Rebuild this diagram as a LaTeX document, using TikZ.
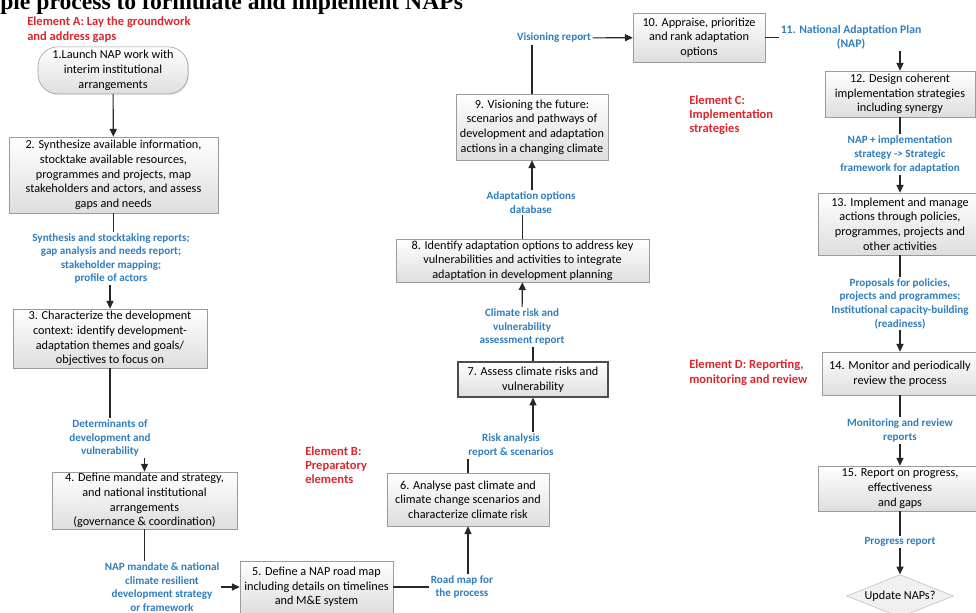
\documentclass[tikz,border=0pt]{standalone}
\usepackage{fontspec}
\setmainfont{Carlito}
\newfontfamily\titlefont{Liberation Serif}
\usetikzlibrary{arrows.meta,shapes.geometric,shadows}

\definecolor{napblue}{RGB}{47,125,190}
\definecolor{napred}{RGB}{220,38,45}
\definecolor{boxline}{RGB}{155,155,155}

\tikzset{
  box/.style={draw=boxline,top color=white,bottom color=black!13,
    drop shadow={opacity=0.2,shadow xshift=0.8pt,shadow yshift=-0.8pt},
    align=center,inner sep=1pt},
  product/.style={text=napblue,font=\fontsize{7.9}{9.7}\selectfont\bfseries,align=center,inner sep=1pt},
  element/.style={text=napred,font=\fontsize{8.9}{10.2}\selectfont\bfseries,align=left,anchor=west,inner sep=0pt},
  line/.style={draw=black!85,line width=0.8pt},
  arr/.style={line,-{Triangle[length=5.5pt,width=5pt]}}
}

\begin{document}
\begin{tikzpicture}[font=\fontsize{8.7}{10.4}\selectfont]
\useasboundingbox (0,0) rectangle (24.4,15.3);

\node[anchor=base west,inner sep=0pt,font=\titlefont\bfseries\fontsize{16.8}{18}\selectfont] (title) at (0,15.06) {ple process to formulate and implement NAPs};

% element headings
\node[element] (A) at (0.675,14.56) {Element A: Lay the groundwork\\and address gaps};
\node[element] (B) at (7.625,3.675) {Element B:\\Preparatory\\elements};
\node[element] (C) at (17.225,12.42) {Element C:\\Implementation\\strategies};
\node[element] (D) at (17.225,5.98) {Element D: Reporting,\\monitoring and review};

% steps
\node[box,rounded corners=14pt,minimum width=3.75cm,minimum height=1.175cm] (1) at (2.825,13.54) {1.Launch NAP work with\\interim institutional\\arrangements};
\node[box,minimum width=5.225cm,minimum height=1.9cm] (2) at (2.8375,10.925) {2. Synthesize available information,\\stocktake available resources,\\programmes and projects, map\\stakeholders and actors, and assess\\gaps and needs};
\node[box,minimum width=4.85cm,minimum height=1.475cm] (3) at (2.75,6.8375) {3. Characterize the development\\context: identify development-\\adaptation themes and goals/\\objectives to focus on};
\node[box,minimum width=4.625cm,minimum height=1.325cm] (4) at (3.6125,2.7875) {4. Define mandate and strategy,\\and national institutional\\arrangements\\(governance \& coordination)};
\node[box,minimum width=3.825cm,minimum height=1.3cm] (5) at (7.9125,0.625) {5. Define a NAP road map\\including details on timelines\\and M\&E system};
\node[box,minimum width=4.05cm,minimum height=1.325cm] (6) at (11.7,2.8125) {6. Analyse past climate and\\climate change scenarios and\\characterize climate risk};
\node[box,draw=black!70,line width=0.8pt,minimum width=3.75cm,minimum height=0.875cm] (7) at (13.325,5.8125) {7. Assess climate risks and\\vulnerability};
\node[box,minimum width=6.325cm,minimum height=1.075cm] (8) at (13.0625,8.7875) {8. Identify adaptation options to address key\\vulnerabilities and activities to integrate\\adaptation in development planning};
\node[box,minimum width=3.8cm,minimum height=1.65cm] (9) at (13.3,12.125) {9. Visioning the future:\\scenarios and pathways of\\development and adaptation\\actions in a changing climate};
\node[box,minimum width=3.3cm,minimum height=1.225cm] (10) at (17.475,14.3625) {10. Appraise, prioritize\\and rank adaptation\\options};
\node[product,font=\fontsize{8.3}{10}\selectfont\bfseries] (11) at (21.275,14.3625) {11. National Adaptation Plan\\(NAP)};
\node[box,minimum width=3.75cm,minimum height=1.15cm] (12) at (22.5,12.95) {12. Design coherent\\implementation strategies\\including synergy};
\node[box,minimum width=4.1cm,minimum height=1.55cm] (13) at (22.5,9.7) {13. Implement and manage\\actions through policies,\\programmes, projects and\\other activities};
\node[box,minimum width=3.9cm,minimum height=1.075cm] (14) at (22.5,5.9625) {14. Monitor and periodically\\review the process};
\node[box,minimum width=4.1cm,minimum height=1.125cm] (15) at (22.5,3.0875) {15. Report on progress,\\effectiveness\\and gaps};
\node[diamond,aspect=2.5,draw=black!25,fill=black!6,inner sep=1pt,minimum width=2.625cm,minimum height=1.05cm] (16) at (22.5,0.4) {Update NAPs?};

% outputs
\node[product] (2a) at (2.775,8.8375) {Synthesis and stocktaking reports;\\gap analysis and needs report;\\stakeholder mapping;\\profile of actors};
\node[product] (3a) at (2.75,4.35) {Determinants of\\development and\\vulnerability};
\node[product] (4a) at (4.05,0.625) {NAP mandate \& national\\climate resilient\\development strategy\\or framework};
\node[product] (5a) at (11.55,0.625) {Road map for\\the process};
\node[product] (6a) at (12.775,4.1625) {Risk analysis\\report \& scenarios};
\node[product] (7a) at (13.05,7.125) {Climate risk and\\vulnerability\\assessment report};
\node[product] (8a) at (13.275,10.2375) {Adaptation options\\database};
\node[product] (9a) at (13.85,14.35) {Visioning report};
\node[product] (12a) at (22.5,11.4375) {NAP + implementation\\strategy -> Strategic\\framework for adaptation};
\node[product] (13a) at (22.5,7.7125) {Proposals for policies,\\projects and programmes;\\Institutional capacity-building\\(readiness)};
\node[product] (14a) at (22.5,4.5375) {Monitoring and review\\reports};
\node[product] (15a) at (22.5,1.75) {Progress report};

\draw[arr] (1)--(2);
\draw[line] (2.south)--(2.south |- 2a.north);
\draw[arr] (2a.south -| 3.north)--(3.north);
\draw[line] (3)--(3a);
\draw[arr] (3a.south -| 4.north)--(4.north);
\draw[line] (4.south)--(4.south |- 4a.north);
\draw[arr] (4a)--(5);
\draw[line] (5)--(5a);
\draw[arr] (5a.north -| 6.south)--(6.south);
\draw[line] (6.north)--(6.north |- 6a.south);
\draw[arr] (6a.north -| 7.south)--(7.south);
\draw[line] (7.north)--(7.north |- 7a.south);
\draw[arr] (7a)--(8);
\draw[line] (8.north)--(8.north |- 8a.south);
\draw[arr] (8a.north -| 9.south)--(9.south);
\draw[line] (9.north)--(9.north |- 9a.south);
\draw[arr] (9a)--(10);
\draw[line] (10)--(11);
\draw[arr] (11.south -| 12.north)--(12.north);
\draw[line] (12)--(12a);
\draw[arr] (12a)--(13);
\draw[line] (13)--(13a);
\draw[arr] (13a)--(14);
\draw[line] (14)--(14a);
\draw[arr] (14a)--(15);
\draw[line] (15)--(15a);
\draw[arr] (15a)--(16);
\end{tikzpicture}
\end{document}
